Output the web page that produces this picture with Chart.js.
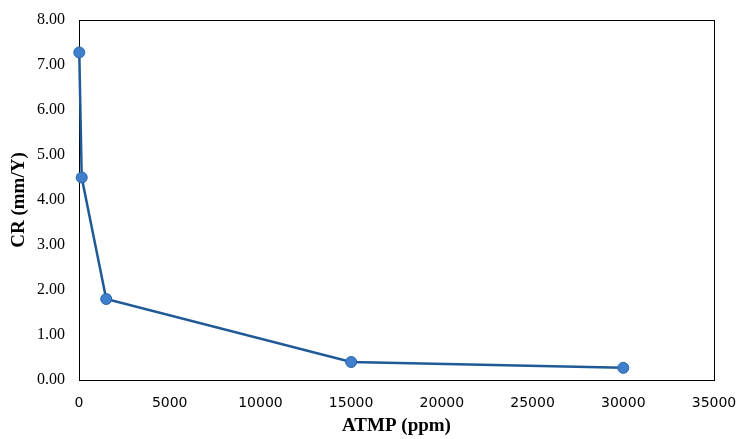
<!DOCTYPE html>
<html>
<head>
<meta charset="utf-8">
<script src="https://cdn.jsdelivr.net/npm/chart.js@4/dist/chart.umd.min.js"></script>
<style>
  html, body { margin: 0; padding: 0; background: #fff; }
  #wrap { width: 737px; height: 439px; }
</style>
</head>
<body>
<div id="wrap"><canvas id="crChart" width="737" height="439"></canvas></div>
<script>
// ATMP concentration (ppm) vs corrosion rate (mm/Y)
const atmp = [15, 150, 1500, 15000, 30000];
const corrosionRate = [7.28, 4.50, 1.80, 0.40, 0.27];

const xTicks = [0, 5000, 10000, 15000, 20000, 25000, 30000, 35000];

// box around the plot area
const frame = {
    id: 'frame',
    beforeDatasetsDraw(chart) {
        const { ctx, chartArea: a } = chart;
        ctx.save();
        ctx.strokeStyle = '#000';
        ctx.lineWidth = 1;
        ctx.strokeRect(a.left + 0.5, a.top + 0.5, a.right - a.left, a.bottom - a.top);
        ctx.restore();
    }
};

new Chart(document.getElementById('crChart'), {
    type: 'line',
    data: {
        datasets: [{
            data: atmp.map((x, i) => ({ x: x, y: corrosionRate[i] })),
            borderColor: '#1f5a96',
            borderWidth: 2.5,
            backgroundColor: '#3f7fcc',
            pointBackgroundColor: '#3f7fcc',
            pointBorderColor: '#2a65a8',
            pointBorderWidth: 1,
            pointRadius: 5.5,
            tension: 0,
            clip: false
        }]
    },
    plugins: [frame],
    options: {
        responsive: false,
        animation: false,
        layout: { padding: { left: 0, top: 20, right: 23, bottom: 0 } },
        plugins: {
            legend: { display: false },
            tooltip: { enabled: false }
        },
        scales: {
            x: {
                type: 'linear',
                min: 0,
                max: 35000,
                afterFit: s => {
                    s.height = 59;
                    s.paddingLeft = 0;
                    s.paddingRight = 0;
                },
                afterBuildTicks: s => { s.ticks = xTicks.map(v => ({ value: v })); },
                grid: { display: false, drawTicks: false },
                border: { display: false },
                ticks: {
                    color: '#000',
                    padding: 15,
                    maxRotation: 0,
                    font: { family: 'DejaVu Sans', size: 14 },
                    callback: v => String(v)
                },
                title: {
                    display: true,
                    text: 'ATMP (ppm)',
                    color: '#000',
                    padding: { top: 2, bottom: 2 },
                    font: { family: 'Liberation Serif', size: 19, weight: 'bold' }
                }
            },
            y: {
                min: 0,
                max: 8,
                afterFit: s => {
                    s.width = 79;
                    s.paddingTop = 0;
                    s.paddingBottom = 0;
                },
                grid: { display: false, drawTicks: false },
                border: { display: false },
                ticks: {
                    color: '#000',
                    stepSize: 1,
                    padding: 14,
                    font: { family: 'Liberation Serif', size: 16 },
                    callback: v => v.toFixed(2)
                },
                title: {
                    display: true,
                    text: 'CR (mm/Y)',
                    color: '#000',
                    padding: { top: 8, bottom: 8 },
                    font: { family: 'Liberation Serif', size: 19, weight: 'bold' }
                }
            }
        }
    }
});
</script>
</body>
</html>
